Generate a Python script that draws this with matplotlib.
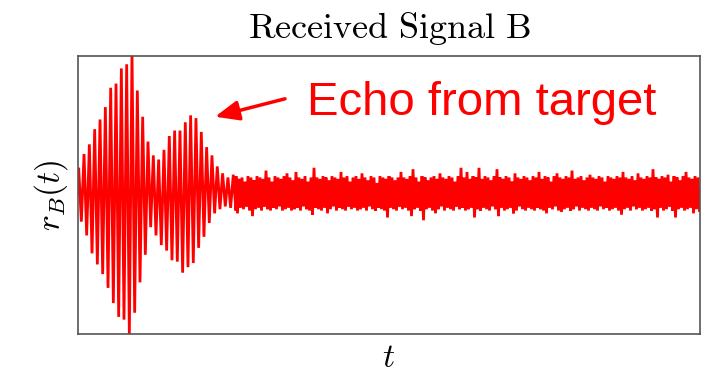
import numpy as np
import matplotlib
matplotlib.use("Agg")
import matplotlib.pyplot as plt

plt.rcParams['mathtext.fontset'] = 'cm'

# ---- data (signal extrema, amplitude units) ----
burst_upper = [0.19, 0.29, 0.36, 0.47, 0.54, 0.63, 0.77, 0.80, 0.91, 0.94,
               1.02, 0.75, 0.56, 0.38, 0.28, 0.25, 0.32, 0.42, 0.46, 0.46,
               0.52, 0.57, 0.55, 0.45, 0.34, 0.28, 0.20, 0.15, 0.12, 0.14]
burst_lower = [-0.20, -0.30, -0.43, -0.51, -0.58, -0.68, -0.79, -0.89, -0.91, -1.02,
               -0.86, -0.64, -0.44, -0.24, -0.30, -0.37, -0.41, -0.48, -0.49, -0.57,
               -0.53, -0.50, -0.39, -0.31, -0.21, -0.14, -0.11, -0.09, -0.10, -0.12]

noise_upper = [13, 11, 12, 9, 13, 12, 10, 13, 12, 11,
               17, 12, 9, 13, 12, 11, 13, 15, 12, 10,
               16, 12, 11, 13, 9, 12, 19, 12, 11, 13,
               12, 10, 13, 12, 11, 16, 12, 13, 9, 12,
               13, 11, 15, 12, 10, 13, 12, 8, 13, 12,
               11, 13, 12, 10, 12, 16, 12, 11, 13, 18,
               12, 9, 13, 12, 10, 12, 13, 11, 15, 12,
               11, 13, 12, 9, 13, 19, 12, 16, 11, 13,
               12, 19, 11, 13, 12, 10, 13, 18, 12, 11,
               13, 12, 9, 15, 12, 11, 13, 12, 10, 13,
               12, 16, 11, 13, 12, 9, 13, 15, 12, 11,
               13, 12, 17, 11, 12, 13, 10, 12, 14, 12,
               11, 13, 12, 9, 13, 12, 11, 13, 12, 16,
               12, 11, 13, 10, 15, 12, 11, 13, 12, 18,
               12, 11, 13, 12, 14, 9, 13, 12, 10, 13,
               16, 12, 11, 13, 12]
noise_lower = [-14, -10, -11, -9, -12, -16, -11, -10, -12, -9,
               -11, -12, -10, -11, -9, -12, -11, -10, -12, -11,
               -10, -12, -9, -11, -12, -15, -10, -11, -12, -10,
               -14, -11, -9, -12, -10, -11, -12, -9, -11, -10,
               -12, -11, -10, -12, -9, -11, -12, -10, -11, -12,
               -17, -10, -11, -12, -9, -11, -10, -12, -16, -11,
               -10, -12, -19, -11, -10, -12, -14, -11, -9, -12,
               -10, -11, -12, -9, -11, -10, -12, -11, -10, -17,
               -11, -12, -10, -11, -12, -9, -11, -16, -10, -12,
               -11, -10, -14, -12, -9, -11, -12, -10, -11, -12,
               -10, -11, -12, -14, -10, -11, -9, -12, -13, -11,
               -10, -12, -11, -9, -12, -10, -11, -12, -10, -11,
               -12, -9, -11, -10, -12, -11, -10, -12, -15, -11,
               -10, -12, -9, -11, -10, -12, -11, -10, -12, -11,
               -17, -10, -12, -11, -9, -12, -17, -11, -10, -12,
               -11, -10, -14, -11, -12]

# ---- time axis ----
burst_period = 5.33
noise_step = 3.0
t_bu = 0.7 + burst_period * np.arange(len(burst_upper))
t_bl = t_bu + burst_period / 2
t_nu = 158.0 + noise_step * np.arange(len(noise_upper))
t_nl = t_nu + noise_step / 2

bu = np.array(burst_upper)
bl = np.array(burst_lower)
nu = np.array(noise_upper) / 100.0
nl = np.array(noise_lower) / 100.0

t = np.concatenate([[0.0], np.column_stack([t_bu, t_bl]).ravel(),
                    np.column_stack([t_nu, t_nl]).ravel()])
y = np.concatenate([[0.0], np.column_stack([bu, bl]).ravel(),
                    np.column_stack([nu, nl]).ravel()])

fig = plt.figure(figsize=(7.1, 3.75), dpi=100)
ax = fig.add_axes([78 / 710, 41 / 375, 622 / 710, 278 / 375])
ax.plot(t, y, color='#ff0000', lw=2.0, solid_joinstyle='miter')
ax.set_xlim(0, 622)
ax.set_ylim(-1.014, 1.0)
ax.set_xticks([])
ax.set_yticks([])
for s in ax.spines.values():
    s.set_color('#555555')
    s.set_linewidth(1.2)

ax.set_title(r'$\mathrm{Received\ Signal\ B}$', fontsize=26, pad=13)
ax.set_xlabel(r'$t$', fontsize=24, labelpad=5)
ax.set_ylabel(r'$r_B(t)$', fontsize=24, labelpad=6)

ax.annotate('', xy=(137, 0.56), xytext=(207, 0.69),
            arrowprops=dict(arrowstyle='-|>,head_length=0.6,head_width=0.25',
                            color='#ff0000', lw=2.5, mutation_scale=24,
                            shrinkA=0, shrinkB=0))
ax.text(229, 0.66, 'Echo from target', color='#ff0000', fontsize=34,
        family='Liberation Sans', ha='left', va='center')

fig.savefig('out.png', dpi=100)
